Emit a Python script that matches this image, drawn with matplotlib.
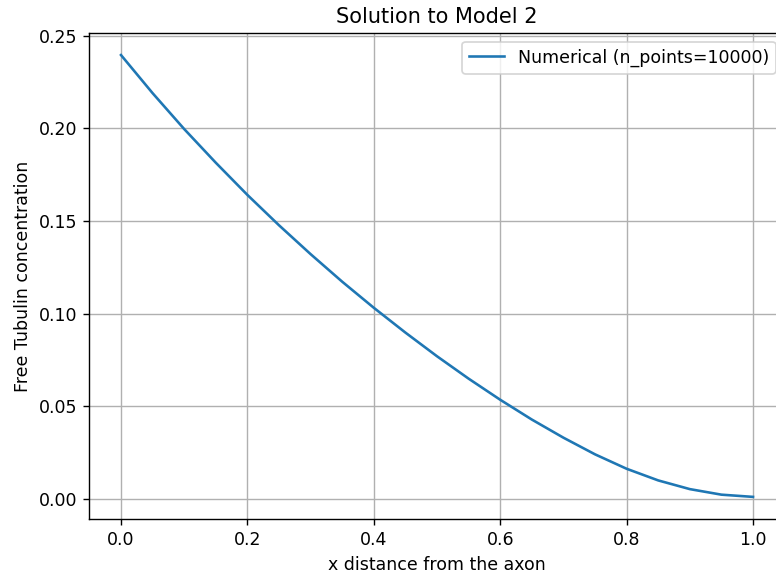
import matplotlib
matplotlib.use("Agg")
import matplotlib.pyplot as plt

x_vals = [0.00, 0.05, 0.10, 0.15, 0.20, 0.25, 0.30, 0.35, 0.40, 0.45, 0.50,
          0.55, 0.60, 0.65, 0.70, 0.75, 0.80, 0.85, 0.90, 0.95, 1.00]
conc = [0.2397, 0.2191, 0.1997, 0.1815, 0.1641, 0.1477, 0.1321, 0.1172, 0.1031,
        0.0897, 0.0769, 0.0648, 0.0534, 0.0427, 0.0329, 0.0239, 0.0161, 0.0098,
        0.0051, 0.0021, 0.0009]

title = "Solution to Model 2"
xlabel = "x distance from the axon"
ylabel = "Free Tubulin concentration"
legend_label = "Numerical (n_points=10000)"

DPI = 125
fig = plt.figure(figsize=(776 / DPI, 576 / DPI), dpi=DPI)
ax = fig.add_axes([0.1152, 0.099, 0.8959, 0.8438])
ax.plot(x_vals, conc, color="#1f77b4", linewidth=1.5, label=legend_label)
ax.set_title(title)
ax.set_xlabel(xlabel)
ax.set_ylabel(ylabel)
ax.grid(True)
ax.legend(loc="upper right")
fig.savefig("out.png", dpi=DPI)
